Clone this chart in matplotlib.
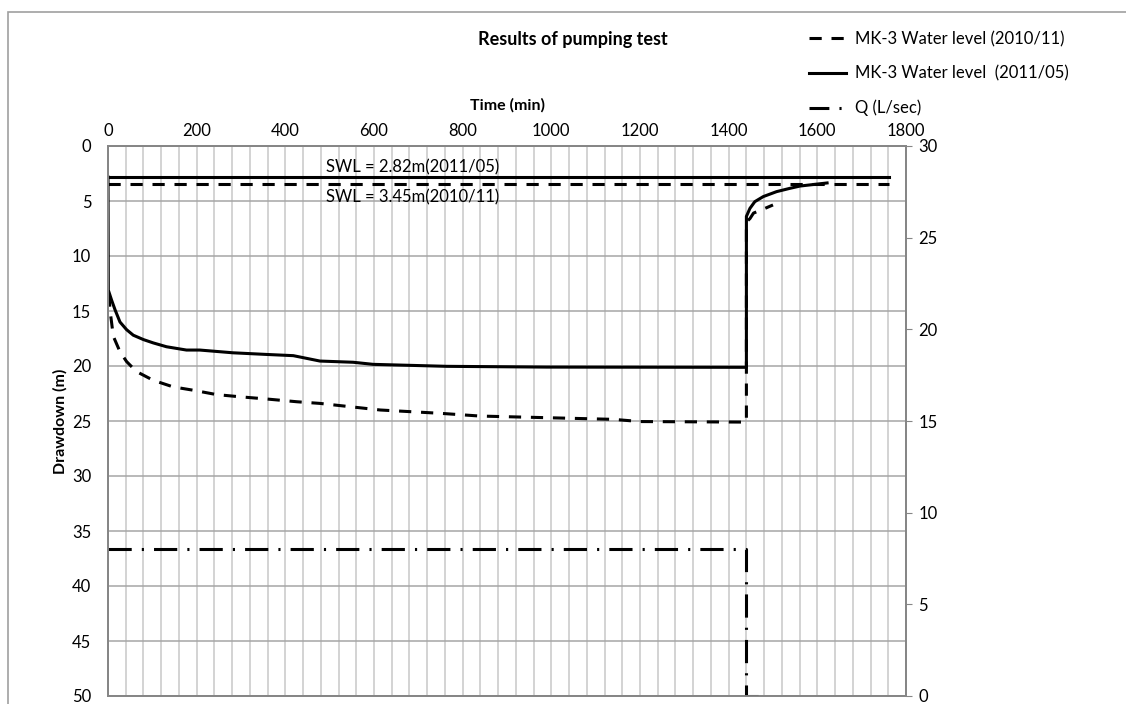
import matplotlib.pyplot as plt
from matplotlib.lines import Line2D
from matplotlib.patches import Rectangle
from matplotlib.ticker import MultipleLocator

plt.rcParams['font.family'] = ['Lato', 'DejaVu Sans']

# drawdown (m) vs time (min), MK-3 2010/11
t_2010 = [2, 4.5, 12, 27, 42, 64, 102, 147, 192, 245, 298, 358, 426, 478, 614,
          749, 839, 990, 1140, 1200, 1440, 1440, 1448, 1456, 1482, 1500]
d_2010 = [13.5, 14.9, 17.3, 18.7, 19.6, 20.5, 21.3, 21.9, 22.2, 22.6, 22.8, 23.0,
          23.25, 23.4, 24.0, 24.3, 24.55, 24.7, 24.85, 25.05, 25.1, 6.9, 6.6, 6.1,
          5.67, 5.36]

# drawdown (m) vs time (min), MK-3 2011/05
t_2011 = [0, 0.7, 8, 16, 27, 42, 57, 80, 102, 132, 177, 207, 282, 358, 418, 478,
          553, 598, 764, 990, 1440, 1440, 1448, 1459, 1478, 1508, 1538, 1561, 1622]
d_2011 = [2.82, 13.1, 14.0, 14.9, 16.0, 16.7, 17.2, 17.6, 17.9, 18.25, 18.55,
          18.55, 18.8, 18.95, 19.06, 19.55, 19.66, 19.85, 20.03, 20.1, 20.12, 6.4,
          5.67, 5.06, 4.6, 4.15, 3.85, 3.64, 3.36]

# static water levels
swl_t = [0, 1762]
swl_2011 = [2.82, 2.82]
swl_2010 = [3.45, 3.45]

# pumping rate
q_t = [0, 1440, 1440, 1478]
q_val = [8, 8, 0, 0]

x_ticks = list(range(0, 1801, 200))
y_ticks = list(range(0, 51, 5))
q_ticks = list(range(0, 31, 5))

W, H = 1126, 704
fig = plt.figure(figsize=(W / 100, H / 100), dpi=100)
ax = fig.add_axes([108 / W, 8 / H, 798 / W, 550 / H])

lw = 2.2
dash = (4, 3.2)
dashdot = (7.6, 3.3, 0.7, 3.3)

ax.plot(t_2010, d_2010, color='black', lw=lw, linestyle=(0, dash))
ax.plot(t_2011, d_2011, color='black', lw=lw, linestyle='-')
ax.plot(swl_t, swl_2011, color='black', lw=lw, linestyle='-')
ax.plot(swl_t, swl_2010, color='black', lw=lw, linestyle=(0, dash))

ax.text(492, 2.7, 'SWL = 2.82m(2011/05)', fontsize=12, va='bottom', ha='left')
ax.text(492, 4.7, 'SWL = 3.45m(2010/11)', fontsize=12, va='center', ha='left')

ax.set_xlim(0, 1800)
ax.set_ylim(50, 0)
ax.xaxis.tick_top()
ax.set_xticks(x_ticks)
ax.xaxis.set_minor_locator(MultipleLocator(40))
ax.set_yticks(y_ticks)
ax.grid(axis='x', which='both', color='#c8c8c8', lw=1.1)
ax.grid(axis='y', which='major', color='#a6a6a6', lw=1.1)
ax.set_axisbelow(True)
ax.tick_params(axis='x', which='both', length=0, pad=5, labelsize=12)
ax.tick_params(axis='y', length=0, pad=12, labelsize=12)
for s in ax.spines.values():
    s.set_color('#868686')
    s.set_linewidth(1.3)

ax2 = ax.twinx()
ax2.plot(q_t, q_val, color='black', lw=lw, linestyle=(0, dashdot))
ax2.set_ylim(0, 30)
ax2.set_yticks(q_ticks)
ax2.tick_params(axis='y', length=4, color='#868686', pad=5, labelsize=12)
for s in ax2.spines.values():
    s.set_color('#868686')
    s.set_linewidth(1.3)

fig.text(573 / W, 1 - 40 / H, 'Results of pumping test', ha='center', va='center',
         fontsize=13, weight='bold')
fig.text(507 / W, 1 - 105 / H, 'Time (min)', ha='center', va='center',
         fontsize=11.5, weight='bold')
fig.text(60 / W, 1 - 421 / H, 'Drawdown (m)', ha='center', va='center',
         rotation=90, fontsize=11.5, weight='bold')

handles = [Line2D([], [], color='black', lw=lw, linestyle=(0, dash)),
           Line2D([], [], color='black', lw=lw, linestyle='-'),
           Line2D([], [], color='black', lw=lw, linestyle=(0, (6.5, 3.3, 0.7, 3.3)))]
labels = ['MK-3 Water level (2010/11)', 'MK-3 Water level  (2011/05)', 'Q (L/sec)']
fig.legend(handles, labels, loc='upper left', bbox_to_anchor=(809 / W, 1 - 31 / H),
           frameon=False, fontsize=12, handlelength=2.2, handletextpad=0.55,
           labelspacing=1.1, borderpad=0, borderaxespad=0)

# chart area border
fig.patches.append(Rectangle((8 / W, -0.1), 1.2, 1 - 12 / H + 0.1, transform=fig.transFigure,
                             fill=False, edgecolor='#a0a0a0', lw=1.2))

fig.savefig('out.png', dpi=100)
